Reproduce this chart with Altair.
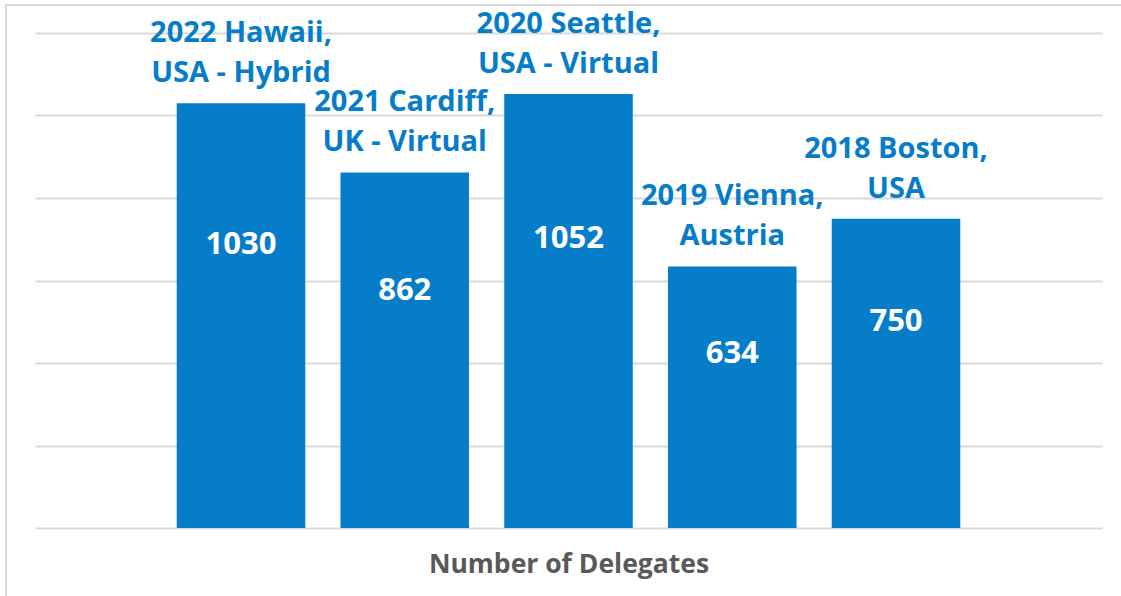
import altair as alt
import pandas as pd

events = ["2022 Hawaii,\nUSA - Hybrid", "2021 Cardiff,\nUK - Virtual", "2020 Seattle,\nUSA - Virtual",
          "2019 Vienna,\nAustria", "2018 Boston,\nUSA"]
delegates = [1030, 862, 1052, 634, 750]
grid_values = [0, 200, 400, 600, 800, 1000, 1200]

df = pd.DataFrame({"event": events, "delegates": delegates})

BLUE = "#067DC8"
FONT = "Open Sans"

x = alt.X("event:N", sort=events,
          scale=alt.Scale(paddingInner=0.215, paddingOuter=0.8655),
          axis=alt.Axis(labels=False, ticks=False, domain=False, title="Number of Delegates",
                        titleFont=FONT, titleFontSize=26.5, titleFontWeight="bold",
                        titleColor="#595959", titlePadding=23))
y = alt.Y("delegates:Q", scale=alt.Scale(domain=[0, 1200], nice=False),
          axis=alt.Axis(values=grid_values, labels=False, ticks=False, domain=False, title=None,
                        gridColor="#d9d9d9", gridWidth=2))

base = alt.Chart(df)

bars = base.mark_bar(color=BLUE).encode(x=x, y=y)

names = base.mark_text(font=FONT, fontSize=29, fontWeight="bold", color=BLUE,
                       baseline="bottom", lineBreak="\n", lineHeight=40, dy=-55).encode(
    x=alt.X("event:N", sort=events), y="delegates:Q", text="event:N")

values = base.transform_calculate(pos="datum.delegates * 2 / 3").mark_text(
    font=FONT, fontSize=31, fontWeight="bold", color="white", baseline="middle").encode(
    x=alt.X("event:N", sort=events), y="pos:Q", text="delegates:Q")

frame_left = base.mark_rule(color="#d9d9d9", strokeWidth=2).encode(
    x=alt.value(-29), y=alt.value(-29), y2=alt.value(600))
frame_top = base.mark_rule(color="#d9d9d9", strokeWidth=2).encode(
    x=alt.value(-30), x2=alt.value(1100), y=alt.value(-28))

chart = alt.layer(bars, names, values, frame_left, frame_top).properties(
    width=1067, height=495,
    padding={"left": 35, "top": 33, "right": 19, "bottom": 68},
    autosize=alt.AutoSizeParams(type="none"),
    background="white",
).configure_view(stroke=None)

chart.save("out.html", embed_options={"renderer": "svg", "actions": False})
